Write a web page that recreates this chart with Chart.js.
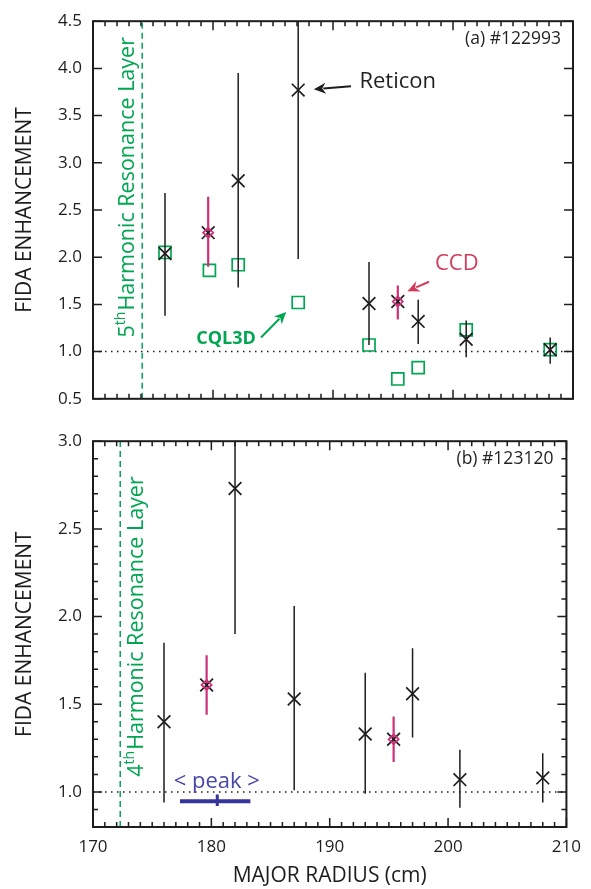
<!DOCTYPE html>
<html>
<head>
<meta charset="utf-8">
<script src="https://cdn.jsdelivr.net/npm/chart.js@4"></script>
<style>
body { margin: 0; background: #fff; }
#wrap { position: relative; width: 591px; height: 889px; }
canvas { position: absolute; left: 0; }
</style>
</head>
<body>
<div id="wrap">
  <canvas id="panelA" width="591" height="420" style="top:0"></canvas>
  <canvas id="panelB" width="591" height="469" style="top:420px"></canvas>
</div>
<script>
// ---- data, panel (a) #122993 ----
var reticonA_R   = [176.0, 182.1, 187.1, 193.0, 197.1, 201.1, 208.1];
var reticonA_val = [2.04, 2.81, 3.77, 1.51, 1.32, 1.13, 1.02];
var reticonA_lo  = [1.38, 1.68, 1.98, 1.07, 1.08, 0.94, 0.87];
var reticonA_hi  = [2.68, 3.95, 4.80, 1.95, 1.55, 1.33, 1.15];

var ccdA_R   = [179.6, 195.4];
var ccdA_val = [2.26, 1.53];
var ccdA_lo  = [1.90, 1.34];
var ccdA_hi  = [2.64, 1.70];

var cql3dA_R   = [176.0, 179.7, 182.1, 187.1, 193.0, 195.4, 197.1, 201.1, 208.1];
var cql3dA_val = [2.05, 1.86, 1.92, 1.52, 1.07, 0.71, 0.83, 1.23, 1.02];

var resonanceA = 174.1;

// ---- data, panel (b) #123120 ----
var reticonB_R   = [176.0, 182.0, 187.0, 193.0, 197.0, 201.0, 208.0];
var reticonB_val = [1.40, 2.73, 1.53, 1.33, 1.56, 1.07, 1.08];
var reticonB_lo  = [0.94, 1.90, 1.01, 0.99, 1.31, 0.91, 0.94];
var reticonB_hi  = [1.85, 3.50, 2.06, 1.68, 1.82, 1.24, 1.22];

var ccdB_R   = [179.6, 195.4];
var ccdB_val = [1.61, 1.30];
var ccdB_lo  = [1.44, 1.17];
var ccdB_hi  = [1.78, 1.43];

var resonanceB = 172.3;

var peakRange  = [177.35, 183.3];
var peakCenter = 180.5;
var peakLevel  = 0.947;
var peakTick   = [0.92, 0.985];

// ---- axes ----
var xRange  = [170, 210];
var xTicks  = [170, 180, 190, 200, 210];
var yRangeA = [0.5, 4.5];
var yRangeB = [0.8, 3.0];

var BLACK = '#1e1c1d';
var GREEN = '#00a651';
var MAGENTA = '#cc3078';
var CCD_RED = '#d23c5c';
var PEAK = '#34349a';
var FONT = "'Open Sans', sans-serif";

function points(xs, ys) {
    return xs.map(function (x, i) { return { x: x, y: ys[i] }; });
}

function errorBars(xs, lo, hi) {
    var out = [];
    xs.forEach(function (x, i) {
        out.push({ x: x, y: lo[i] });
        out.push({ x: x, y: hi[i] });
        out.push({ x: x, y: null });
    });
    return out;
}

function lineSet(data, color, width, dash, order) {
    return {
        data: data, showLine: true, spanGaps: false,
        borderColor: color, borderWidth: width, borderDash: dash || [],
        pointRadius: 0, order: order, borderCapStyle: 'butt'
    };
}

function markerSet(data, style, radius, color, width, order) {
    return {
        data: data, showLine: false, pointStyle: style,
        pointRadius: radius, pointBorderColor: color, pointBorderWidth: width,
        pointBackgroundColor: 'rgba(0,0,0,0)', order: order
    };
}

function arrow(ctx, x1, y1, x2, y2, color) {
    var ang = Math.atan2(y2 - y1, x2 - x1);
    var hl = 12, hw = 5.5;
    ctx.save();
    ctx.strokeStyle = color;
    ctx.fillStyle = color;
    ctx.lineWidth = 2;
    ctx.beginPath();
    ctx.moveTo(x1, y1);
    ctx.lineTo(x2 - Math.cos(ang) * hl * 0.8, y2 - Math.sin(ang) * hl * 0.8);
    ctx.stroke();
    ctx.beginPath();
    ctx.moveTo(x2, y2);
    ctx.lineTo(x2 - Math.cos(ang) * hl - Math.sin(ang) * hw, y2 - Math.sin(ang) * hl + Math.cos(ang) * hw);
    ctx.lineTo(x2 - Math.cos(ang) * hl * 0.7, y2 - Math.sin(ang) * hl * 0.7);
    ctx.lineTo(x2 - Math.cos(ang) * hl + Math.sin(ang) * hw, y2 - Math.sin(ang) * hl - Math.cos(ang) * hw);
    ctx.closePath();
    ctx.fill();
    ctx.restore();
}

function layerLabel(ctx, px, py, num) {
    ctx.save();
    ctx.translate(px, py);
    ctx.rotate(-Math.PI / 2);
    ctx.fillStyle = GREEN;
    ctx.textBaseline = 'middle';
    ctx.textAlign = 'left';
    ctx.font = '21.5px ' + FONT;
    ctx.fillText(num, 0, 0);
    var w = ctx.measureText(num).width;
    ctx.font = '14px ' + FONT;
    ctx.fillText('th', w, -7);
    w += ctx.measureText('th').width + 1;
    ctx.font = '21.5px ' + FONT;
    ctx.fillText('Harmonic Resonance Layer', w, 0);
    ctx.restore();
}

// frame with inward ticks, drawn from the scales; notes drawn after
function frameTicks(yStep, notes) {
    return {
        id: 'frameTicks',
        afterDatasetsDraw: function (chart) {
            var ctx = chart.ctx, a = chart.chartArea;
            var xs = chart.scales.x, ys = chart.scales.y;
            ctx.save();
            ctx.strokeStyle = BLACK;
            ctx.lineWidth = 1.5;
            ctx.beginPath();
            for (var v = xRange[0]; v <= xRange[1]; v++) {
                var px = xs.getPixelForValue(v);
                var len = (v % 10 === 0) ? 9 : 5;
                ctx.moveTo(px, a.bottom); ctx.lineTo(px, a.bottom - len);
                ctx.moveTo(px, a.top); ctx.lineTo(px, a.top + len);
            }
            var n = Math.round((ys.max - ys.min) / yStep);
            for (var i = 0; i <= n; i++) {
                var yv = ys.min + i * yStep;
                var major = Math.abs(yv * 2 - Math.round(yv * 2)) < 1e-6;
                var py = ys.getPixelForValue(yv);
                var l = major ? 9 : 5;
                ctx.moveTo(a.left, py); ctx.lineTo(a.left + l, py);
                ctx.moveTo(a.right, py); ctx.lineTo(a.right - l, py);
            }
            ctx.stroke();
            ctx.lineWidth = 2;
            ctx.strokeRect(a.left, a.top, a.right - a.left, a.bottom - a.top);
            ctx.restore();
            notes(ctx, xs, ys);
        }
    };
}

function baseOptions(yRange, showX, padTop, xHeight) {
    return {
        responsive: false,
        animation: false,
        devicePixelRatio: 1,
        layout: { padding: { top: padTop, right: 18, left: 0, bottom: 0 } },
        plugins: {
            legend: { display: false },
            tooltip: { enabled: false }
        },
        scales: {
            x: {
                type: 'linear', position: 'bottom',
                min: xRange[0], max: xRange[1],
                grid: { display: false, drawTicks: false },
                border: { display: false },
                afterBuildTicks: function (s) { s.ticks = xTicks.map(function (v) { return { value: v }; }); },
                afterFit: function (s) { s.height = xHeight; },
                ticks: { display: showX, padding: 10, color: BLACK, font: { family: FONT, size: 17 } },
                title: {
                    display: showX, text: 'MAJOR RADIUS (cm)', color: BLACK,
                    font: { family: FONT, size: 21 }, padding: { top: 0, bottom: 0 }
                }
            },
            y: {
                type: 'linear', position: 'left',
                min: yRange[0], max: yRange[1],
                grid: { display: false, drawTicks: false },
                border: { display: false },
                afterBuildTicks: function (s) {
                    var t = [];
                    for (var v = Math.ceil(yRange[0] * 2) / 2; v <= yRange[1] + 1e-9; v += 0.5) t.push({ value: v });
                    s.ticks = t;
                },
                afterFit: function (s) { s.width = 93; },
                ticks: {
                    padding: 11, color: BLACK, font: { family: FONT, size: 17 },
                    callback: function (v) { return v.toFixed(1); }
                },
                title: {
                    display: true, text: 'FIDA ENHANCEMENT', color: BLACK,
                    font: { family: FONT, size: 21 }, padding: { top: 12, bottom: 0 }
                }
            }
        }
    };
}

// panel (a)
new Chart(document.getElementById('panelA'), {
    type: 'scatter',
    data: {
        datasets: [
            markerSet(points(ccdA_R, ccdA_val), 'rectRot', 5, MAGENTA, 1.8, 0),
            markerSet(points(reticonA_R.concat(ccdA_R), reticonA_val.concat(ccdA_val)), 'crossRot', 9, BLACK, 1.7, 1),
            lineSet(errorBars(ccdA_R, ccdA_lo, ccdA_hi), MAGENTA, 2.2, null, 2),
            lineSet(errorBars(reticonA_R, reticonA_lo, reticonA_hi), BLACK, 1.5, null, 3),
            markerSet(points(cql3dA_R, cql3dA_val), 'rect', 8.5, GREEN, 1.7, 4),
            lineSet([{ x: resonanceA, y: yRangeA[0] }, { x: resonanceA, y: yRangeA[1] }], GREEN, 1.5, [6, 4], 5),
            lineSet([{ x: xRange[0], y: 1 }, { x: xRange[1], y: 1 }], BLACK, 1.5, [1.5, 4.5], 6)
        ]
    },
    options: baseOptions(yRangeA, false, 11, 16),
    plugins: [frameTicks(0.5, function (ctx, xs, ys) {
        var X = function (v) { return xs.getPixelForValue(v); };
        var Y = function (v) { return ys.getPixelForValue(v); };
        ctx.save();
        ctx.textBaseline = 'middle';
        ctx.fillStyle = '#231f20';
        ctx.font = '17.5px ' + FONT;
        ctx.textAlign = 'right';
        ctx.fillText('(a) #122993', X(209.0), Y(4.31));
        ctx.textAlign = 'left';
        ctx.font = '22px ' + FONT;
        ctx.fillText('Reticon', X(192.2), Y(3.86));
        arrow(ctx, X(191.5), Y(3.81), X(188.4), Y(3.78), BLACK);
        ctx.fillStyle = CCD_RED;
        ctx.fillText('CCD', X(198.5), Y(1.93));
        arrow(ctx, X(198.0), Y(1.74), X(196.2), Y(1.64), CCD_RED);
        ctx.fillStyle = GREEN;
        ctx.font = 'bold 18px ' + FONT;
        ctx.fillText('CQL3D', X(178.6), Y(1.13));
        arrow(ctx, X(184.0), Y(1.15), X(186.1), Y(1.42), GREEN);
        ctx.restore();
        layerLabel(ctx, X(172.9), Y(1.15), '5');
    })]
});

// panel (b)
new Chart(document.getElementById('panelB'), {
    type: 'scatter',
    data: {
        datasets: [
            markerSet(points(ccdB_R, ccdB_val), 'rectRot', 5, MAGENTA, 1.8, 0),
            markerSet(points(reticonB_R.concat(ccdB_R), reticonB_val.concat(ccdB_val)), 'crossRot', 9, BLACK, 1.7, 1),
            lineSet(errorBars(ccdB_R, ccdB_lo, ccdB_hi), MAGENTA, 2.2, null, 2),
            lineSet(errorBars(reticonB_R, reticonB_lo, reticonB_hi), BLACK, 1.5, null, 3),
            lineSet([{ x: peakRange[0], y: peakLevel }, { x: peakRange[1], y: peakLevel }], PEAK, 4, null, 4),
            lineSet([{ x: peakCenter, y: peakTick[0] }, { x: peakCenter, y: peakTick[1] }], PEAK, 3, null, 4),
            lineSet([{ x: resonanceB, y: yRangeB[0] }, { x: resonanceB, y: yRangeB[1] }], GREEN, 1.5, [6, 4], 5),
            lineSet([{ x: xRange[0], y: 1 }, { x: xRange[1], y: 1 }], BLACK, 1.5, [1.5, 4.5], 6)
        ]
    },
    options: baseOptions(yRangeB, true, 15, 62),
    plugins: [frameTicks(0.1, function (ctx, xs, ys) {
        var X = function (v) { return xs.getPixelForValue(v); };
        var Y = function (v) { return ys.getPixelForValue(v); };
        ctx.save();
        ctx.textBaseline = 'middle';
        ctx.fillStyle = '#231f20';
        ctx.font = '17.5px ' + FONT;
        ctx.textAlign = 'right';
        ctx.fillText('(b) #123120', X(208.9), Y(2.896));
        ctx.textAlign = 'center';
        ctx.fillStyle = '#4646a8';
        ctx.font = '22px ' + FONT;
        ctx.fillText('< peak >', X(180.46), Y(1.06));
        ctx.restore();
        layerLabel(ctx, X(173.7), Y(1.087), '4');
    })]
});
</script>
</body>
</html>
